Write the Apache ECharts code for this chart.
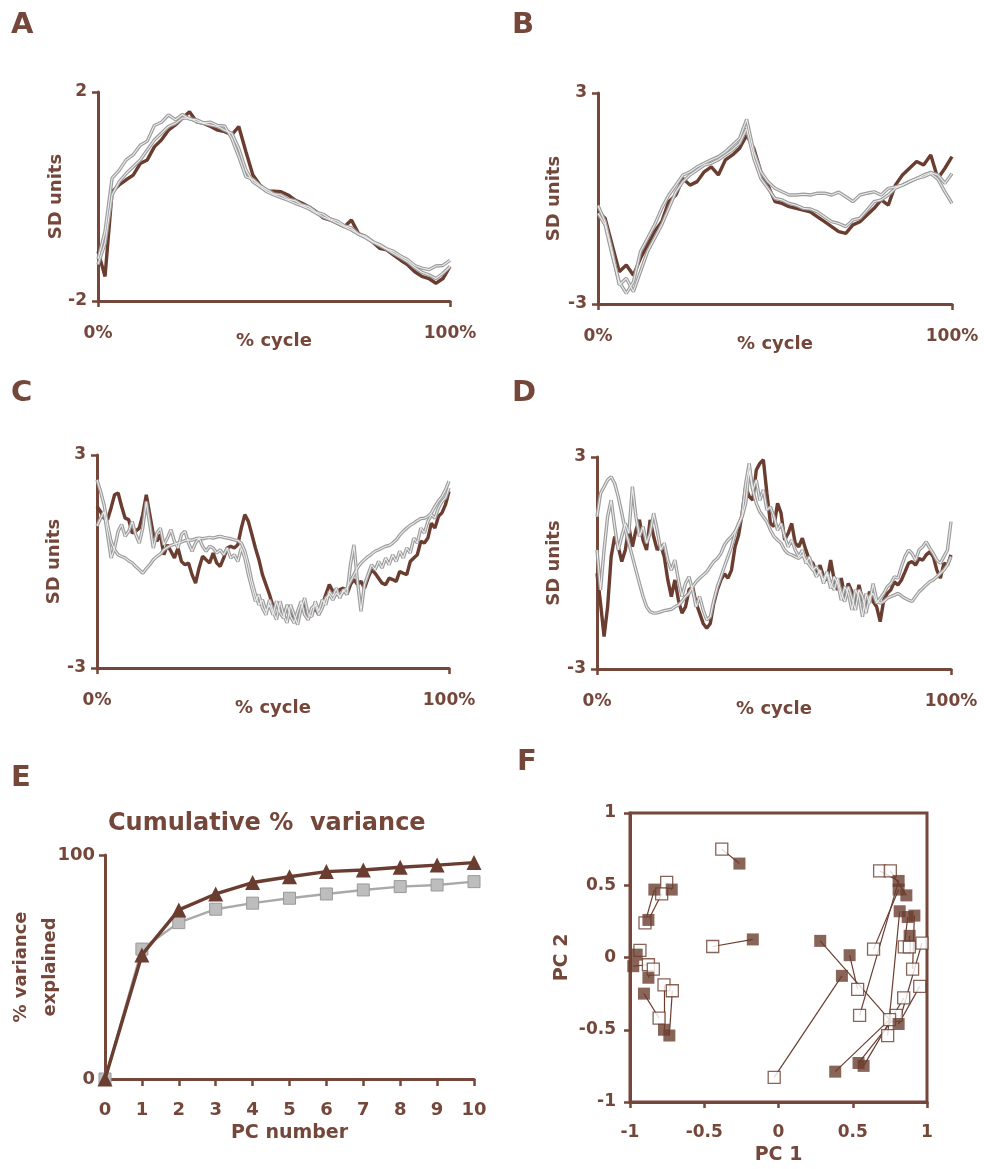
<!DOCTYPE html>
<html><head><meta charset="utf-8">
<script src="https://cdn.jsdelivr.net/npm/echarts@6/dist/echarts.min.js"></script>
<style>html,body{margin:0;padding:0;background:#fff}#c{width:984px;height:1169px}</style>
</head><body><div id="c"></div>
<script>
// ---------- Panel A (2% steps, 0..100% cycle) ----------
const aDark = [-1.05,-1.53,0.09,0.22,0.32,0.41,0.63,0.70,0.95,1.08,1.27,1.37,1.50,1.62,1.43,1.40,1.34,1.27,1.24,1.18,1.34,0.86,0.41,0.22,0.10,0.10,0.09,0.03,-0.07,-0.13,-0.20,-0.29,-0.41,-0.45,-0.51,-0.58,-0.45,-0.71,-0.77,-0.87,-0.99,-1.02,-1.12,-1.22,-1.31,-1.44,-1.53,-1.57,-1.66,-1.57,-1.34];
const aGray1 = [-1.20,-0.67,0.35,0.50,0.70,0.80,0.98,1.06,1.36,1.42,1.56,1.47,1.57,1.48,1.47,1.41,1.42,1.36,1.35,1.11,0.76,0.38,0.33,0.21,0.13,0.05,0.03,-0.05,-0.08,-0.16,-0.20,-0.30,-0.34,-0.43,-0.47,-0.56,-0.60,-0.72,-0.76,-0.86,-0.92,-1.00,-1.05,-1.14,-1.21,-1.32,-1.37,-1.40,-1.33,-1.32,-1.22];
const aGray2 = [-1.30,-0.90,0.03,0.28,0.44,0.57,0.70,0.89,1.08,1.21,1.34,1.40,1.50,1.50,1.43,1.40,1.37,1.34,1.27,1.21,0.92,0.51,0.28,0.19,0.09,0.03,-0.02,-0.07,-0.13,-0.18,-0.24,-0.32,-0.39,-0.45,-0.51,-0.58,-0.64,-0.72,-0.79,-0.87,-0.94,-1.01,-1.09,-1.17,-1.25,-1.36,-1.45,-1.50,-1.57,-1.47,-1.34];
// ---------- Panel B (2% steps) ----------
const bDark = [-0.38,-0.56,-1.32,-2.08,-1.89,-2.18,-1.70,-1.32,-0.94,-0.66,-0.09,0.10,0.57,0.38,0.48,0.76,0.90,0.67,1.10,1.24,1.43,1.80,1.43,0.76,0.38,-0.09,-0.14,-0.23,-0.28,-0.33,-0.38,-0.52,-0.66,-0.80,-0.94,-0.99,-0.75,-0.66,-0.47,-0.28,-0.04,-0.19,0.38,0.67,0.86,1.05,0.95,1.24,0.57,0.86,1.19];
const bGray1 = [-0.42,-0.75,-1.61,-2.37,-2.70,-2.37,-1.51,-1.13,-0.75,-0.28,0.10,0.38,0.67,0.76,0.90,1.00,1.10,1.19,1.33,1.52,1.71,2.25,1.33,0.76,0.48,0.29,0.19,0.10,0.10,0.12,0.10,0.15,0.15,0.10,0.18,0.05,-0.09,0.10,0.15,0.19,0.10,0.29,0.33,0.38,0.48,0.57,0.62,0.71,0.55,0.19,-0.14];
const bGray2 = [-0.20,-0.66,-1.51,-2.46,-2.27,-2.65,-2.08,-1.51,-1.13,-0.75,-0.28,0.19,0.48,0.67,0.81,0.95,1.00,1.10,1.24,1.38,1.57,1.99,1.14,0.57,0.29,0.00,-0.04,-0.14,-0.19,-0.28,-0.30,-0.38,-0.52,-0.66,-0.71,-0.80,-0.61,-0.56,-0.33,-0.09,-0.04,0.10,0.29,0.38,0.48,0.57,0.67,0.74,0.67,0.43,0.71];
// ---------- Panel C (1% steps) ----------
const cDark = [1.55,1.41,1.22,1.18,1.51,1.88,1.93,1.55,1.22,1.18,
 0.80,0.85,0.94,1.32,1.88,1.32,0.76,0.57,0.76,0.19,
 0.47,0.29,0.10,0.38,0.00,-0.09,-0.04,-0.37,-0.61,-0.18,
 0.15,0.05,-0.04,0.24,-0.04,-0.14,0.10,0.38,0.43,0.38,
 0.47,0.94,1.32,1.13,0.76,0.38,0.05,-0.37,-0.65,-0.93,
 -1.26,-1.22,-1.40,-1.50,-1.31,-1.50,-1.69,-1.55,-1.26,-1.17,
 -1.59,-1.45,-1.31,-1.50,-1.22,-0.93,-0.65,-0.84,-0.93,-0.79,
 -0.75,-0.93,-0.65,-0.51,-0.65,-0.56,-0.75,-0.47,-0.23,-0.33,
 -0.47,-0.61,-0.65,-0.47,-0.51,-0.56,-0.28,-0.33,-0.37,0.00,
 0.10,0.19,0.57,0.52,0.66,1.08,0.94,1.27,1.37,1.60,1.98];
const cGray1 = [2.30,1.98,1.60,1.04,0.57,0.33,0.19,0.14,0.10,0.02,
 -0.04,-0.14,-0.23,-0.33,-0.20,-0.09,0.05,0.14,0.21,0.33,
 0.40,0.45,0.49,0.52,0.55,0.59,0.61,0.60,0.64,0.66,
 0.64,0.66,0.68,0.66,0.69,0.71,0.68,0.66,0.64,0.61,
 0.59,0.52,0.29,-0.09,-0.56,-0.93,-1.22,-1.08,-1.40,-1.22,
 -1.50,-1.12,-1.45,-1.59,-1.22,-1.55,-1.73,-1.40,-1.12,-1.50,
 -1.64,-1.31,-1.22,-1.50,-1.31,-1.03,-0.93,-1.08,-0.89,-0.98,
 -0.84,-0.75,-0.56,-0.37,-0.18,-0.04,0.05,0.14,0.21,0.29,
 0.33,0.38,0.43,0.45,0.52,0.61,0.74,0.85,0.94,1.02,
 1.08,1.15,1.21,1.22,1.27,1.37,1.55,1.71,1.83,2.02,2.26];
const cGray2 = [1.00,1.22,1.41,0.76,0.10,0.38,0.85,1.04,0.71,0.85,
 1.13,0.76,0.52,0.94,1.69,1.04,0.38,0.80,0.94,0.47,
 0.66,0.90,0.57,0.38,0.76,0.85,0.52,0.29,0.52,0.66,
 0.43,0.29,0.43,0.38,0.24,0.33,0.19,0.38,0.10,0.19,
 0.00,0.38,0.10,-0.37,-0.75,-1.12,-0.93,-1.31,-1.50,-1.08,
 -1.40,-1.64,-1.12,-1.50,-1.73,-1.22,-1.50,-1.78,-1.31,-1.03,
 -1.50,-1.55,-1.12,-1.40,-1.08,-1.22,-0.84,-0.98,-0.75,-1.03,
 -0.79,-0.93,-0.09,0.47,-0.56,-1.40,-0.65,-0.37,-0.09,-0.23,
 0.00,-0.18,0.10,-0.09,0.19,0.00,0.29,0.10,0.38,0.24,
 0.66,0.52,0.94,0.80,1.13,1.32,1.22,1.51,1.69,1.79,2.07];
// ---------- Panel D (1% steps) ----------
const dDark = [-0.29,-1.14,-2.08,-1.24,0.18,0.75,0.46,0.04,0.37,1.03,
 0.46,0.93,1.22,0.65,0.37,1.22,0.75,0.37,0.51,0.18,
 -0.48,-0.95,-0.48,-1.05,-1.42,-1.24,-0.76,-0.67,-1.14,-1.42,
 -1.71,-1.85,-1.71,-1.14,-0.76,-0.48,-0.31,-0.43,-0.20,0.46,
 0.79,1.41,2.16,1.88,1.78,2.63,2.82,2.92,1.97,1.12,
 1.03,1.69,1.41,0.65,0.84,1.12,0.56,0.46,0.70,0.37,
 0.08,-0.01,-0.29,-0.06,-0.39,-0.48,0.08,-0.48,-0.76,-0.43,
 -0.95,-0.58,-0.81,-1.14,-0.62,-1.05,-1.24,-0.81,-1.09,-1.24,
 -1.66,-1.05,-0.86,-0.76,-0.53,-0.62,-0.48,-0.25,-0.01,0.04,
 -0.06,0.13,0.08,0.23,0.32,0.18,-0.20,-0.43,-0.01,-0.06,0.23];
const dGray1 = [1.31,1.97,2.16,2.35,2.44,2.25,1.88,1.41,0.93,0.56,
 0.18,-0.20,-0.58,-0.95,-1.24,-1.38,-1.42,-1.41,-1.38,-1.35,
 -1.33,-1.31,-1.24,-1.19,-1.09,-0.95,-0.86,-0.67,-0.53,-0.43,
 -0.34,-0.25,-0.10,0.04,0.13,0.27,0.51,0.65,0.75,0.89,
 1.08,1.36,2.25,2.82,2.07,1.69,1.45,1.31,1.17,0.93,
 0.75,0.65,0.56,0.37,0.27,0.23,0.18,0.13,0.23,0.08,
 -0.06,-0.20,-0.10,-0.29,-0.48,-0.25,-0.58,-0.76,-0.43,-0.86,
 -1.09,-0.67,-1.00,-1.33,-0.76,-0.95,-1.42,-0.95,-0.86,-1.14,
 -1.00,-0.86,-0.67,-0.58,-0.39,-0.43,-0.10,0.18,0.37,0.27,
 0.08,0.37,0.46,0.60,0.42,0.27,0.08,-0.01,0.18,0.37,1.17];
const dGray2 = [0.37,-0.76,0.37,1.31,1.78,1.03,0.37,0.75,1.12,0.84,
 2.16,1.31,0.75,1.03,0.56,0.84,1.41,0.93,0.37,0.56,
 0.08,-0.20,0.08,-0.48,-0.95,-0.58,-0.39,-0.76,-1.24,-0.95,
 -1.33,-1.61,-1.52,-1.05,-0.67,-0.39,-0.10,0.18,0.46,0.84,
 1.12,1.31,1.69,2.63,2.07,2.35,1.78,2.07,1.50,1.59,
 1.31,0.93,1.12,0.75,0.46,0.65,0.37,0.18,0.37,-0.01,
 0.18,-0.15,-0.39,-0.20,-0.58,-0.29,-0.72,-0.39,-0.58,-1.05,
 -0.67,-0.86,-1.33,-0.76,-0.95,-1.52,-0.86,-1.14,-0.58,-1.05,
 -1.14,-1.09,-1.00,-0.95,-0.91,-0.86,-0.93,-1.00,-1.05,-1.09,
 -0.95,-0.81,-0.72,-0.62,-0.53,-0.48,-0.39,-0.29,-0.20,-0.06,0.18];
// ---------- Panel E ----------
const pcNumbers = [0,1,2,3,4,5,6,7,8,9,10];
const cumVarTriangle = [0,55.4,75.5,82.6,87.7,90.3,92.6,93.3,94.5,95.5,96.6];
const cumVarSquare = [0,58.0,69.8,75.8,78.5,80.7,82.6,84.4,85.9,86.6,88.1];
// ---------- Panel F (PC1, PC2) ----------
const fOpen = [
 [-0.753,0.52],[-0.787,0.44],[-0.899,0.24],[-0.933,0.05],[-0.876,-0.05],[-0.843,-0.08],[-0.804,-0.42],[-0.771,-0.19],[-0.715,-0.23],
 [-0.382,0.75],[-0.443,0.076],
 [-0.029,-0.83],[0.533,-0.22],[0.546,-0.40],[0.64,0.058],[0.681,0.60],[0.753,0.60],[0.847,0.074],[0.881,0.074],[0.966,0.10],[0.903,-0.08],[0.951,-0.20],[0.843,-0.28],[0.793,-0.40],[0.748,-0.43],[0.735,-0.54]
];
const fFilled = [
 [-0.719,0.47],[-0.876,0.26],[-0.836,0.47],[-0.955,0.02],[-0.978,-0.06],[-0.876,-0.14],[-0.906,-0.25],[-0.771,-0.50],[-0.735,-0.54],
 [-0.263,0.65],[-0.173,0.125],
 [0.427,-0.127],[0.281,0.115],[0.479,0.016],[0.809,0.53],[0.809,0.47],[0.861,0.43],[0.816,0.32],[0.87,0.28],[0.883,0.15],[0.915,0.29],[0.539,-0.73],[0.573,-0.75],[0.382,-0.79],[0.809,-0.46]
];
const fLinks = [[0,0],[1,1],[2,2],[3,3],[4,4],[5,5],[6,6],[7,7],[8,8],[9,9],[10,10],
 [11,11],[24,12],[12,13],[13,14],[14,15],[15,14],[16,16],[25,17],[17,18],[18,19],[20,20],[23,21],[22,22],[24,23],[19,24],[21,24]];

// ---------- styling ----------
const BROWN = '#74473a';
const DARK = '#6a3d30';
const FONT = 'DejaVu Sans';
const lbl = {color: BROWN, fontFamily: FONT, fontWeight: 'bold', fontSize: 17};

const grids = [
 {left: 98, top: 92, width: 352, height: 209},
 {left: 598, top: 93, width: 354, height: 211},
 {left: 97, top: 455, width: 352, height: 213},
 {left: 597, top: 457, width: 354, height: 212},
 {left: 105, top: 855, width: 369, height: 224},
 {left: 630, top: 813, width: 297, height: 289, show: true, borderColor: BROWN, borderWidth: 3, backgroundColor: 'transparent'}
].map(g => Object.assign({outerBoundsMode: 'none', containLabel: false}, g));

const axisLine = {show: true, onZero: false, lineStyle: {color: BROWN, width: 3}};
const tick = (vals) => ({show: true, inside: false, length: 6, customValues: vals, lineStyle: {color: BROWN, width: 2.5}});

function cycleX(gi) {
  return {type: 'value', gridIndex: gi, min: 0, max: 100, name: '% cycle', nameLocation: 'middle', nameGap: 31,
    nameMoveOverlap: false,
    nameTextStyle: Object.assign({}, lbl, {fontSize: 18}),
    axisLine, axisTick: tick([0, 100]), splitLine: {show: false},
    axisLabel: Object.assign({}, lbl, {margin: 24, customValues: [0, 100], formatter: '{value}%'})};
}
function sdY(gi, lim, gap) {
  return {type: 'value', gridIndex: gi, min: -lim, max: lim, name: 'SD units', nameLocation: 'middle', nameGap: gap,
    nameMoveOverlap: false,
    nameTextStyle: Object.assign({}, lbl, {fontSize: 18}),
    axisLine, axisTick: tick([-lim, lim]), splitLine: {show: false},
    axisLabel: Object.assign({}, lbl, {margin: 11, customValues: [-lim, lim]})};
}
const toXY = arr => arr.map((v, i) => [i * 100 / (arr.length - 1), v]);
function darkLine(gi, arr) {
  return {type: 'line', xAxisIndex: gi, yAxisIndex: gi, data: toXY(arr), symbol: 'none', silent: true,
    lineStyle: {color: DARK, width: 3.4}, z: 2};
}
function grayLine(gi, arr) {
  return [
    {type: 'line', xAxisIndex: gi, yAxisIndex: gi, data: toXY(arr), symbol: 'none', silent: true,
      lineStyle: {color: '#9c9c9c', width: 3.4}, z: 3},
    {type: 'line', xAxisIndex: gi, yAxisIndex: gi, data: toXY(arr), symbol: 'none', silent: true,
      lineStyle: {color: '#ececec', width: 1.1}, z: 4}
  ];
}

const xAxes = [cycleX(0), cycleX(1), cycleX(2), cycleX(3),
 {type: 'value', gridIndex: 4, min: 0, max: 10, interval: 1, name: 'PC number', nameLocation: 'middle', nameGap: 45,
  nameMoveOverlap: false,
  nameTextStyle: Object.assign({}, lbl, {fontSize: 19}), axisLine,
  axisTick: {show: true, length: 7, lineStyle: {color: BROWN, width: 2.5}}, splitLine: {show: false},
  axisLabel: Object.assign({}, lbl, {fontSize: 18, margin: 22})},
 {type: 'value', gridIndex: 5, min: -1, max: 1, interval: 0.5, name: 'PC 1', nameLocation: 'middle', nameGap: 44,
  nameMoveOverlap: false,
  nameTextStyle: Object.assign({}, lbl, {fontSize: 19}), axisLine,
  axisTick: {show: true, length: 6, lineStyle: {color: BROWN, width: 2.5}}, splitLine: {show: false},
  axisLabel: Object.assign({}, lbl, {margin: 22})}
];
const yAxes = [sdY(0, 2, 33), sdY(1, 3, 35), sdY(2, 3, 34), sdY(3, 3, 34),
 {type: 'value', gridIndex: 4, min: 0, max: 100, name: '% variance\nexplained', nameLocation: 'middle', nameGap: 40,
  nameMoveOverlap: false,
  nameTextStyle: Object.assign({}, lbl, {fontSize: 18, lineHeight: 29}), axisLine,
  axisTick: tick([0, 100]), splitLine: {show: false},
  axisLabel: Object.assign({}, lbl, {fontSize: 18, margin: 10, customValues: [0, 100]})},
 {type: 'value', gridIndex: 5, min: -1, max: 1, interval: 0.5, name: 'PC 2', nameLocation: 'middle', nameGap: 58,
  nameMoveOverlap: false,
  nameTextStyle: Object.assign({}, lbl, {fontSize: 19}), axisLine,
  axisTick: {show: true, length: 6, lineStyle: {color: BROWN, width: 2.5}}, splitLine: {show: false},
  axisLabel: Object.assign({}, lbl, {margin: 14})}
];

const series = [];
[[aDark, aGray1, aGray2], [bDark, bGray1, bGray2], [cDark, cGray1, cGray2], [dDark, dGray1, dGray2]].forEach((set, gi) => {
  series.push(darkLine(gi, set[0]));
  series.push(...grayLine(gi, set[1]));
  series.push(...grayLine(gi, set[2]));
});
series.push({type: 'line', xAxisIndex: 4, yAxisIndex: 4, silent: true, z: 3,
  data: pcNumbers.map((p, i) => [p, cumVarSquare[i]]), symbol: 'rect', symbolSize: 12,
  lineStyle: {color: '#a9a9a9', width: 2.4}, itemStyle: {color: '#bdbdbd', borderColor: '#999', borderWidth: 1}});
series.push({type: 'line', xAxisIndex: 4, yAxisIndex: 4, silent: true, z: 4,
  data: pcNumbers.map((p, i) => [p, cumVarTriangle[i]]), symbol: 'triangle', symbolSize: 15,
  lineStyle: {color: DARK, width: 3.4}, itemStyle: {color: DARK}});
series.push({type: 'lines', coordinateSystem: 'cartesian2d', xAxisIndex: 5, yAxisIndex: 5, silent: true, z: 2,
  lineStyle: {color: DARK, width: 1.2, opacity: 1},
  data: fLinks.map(([o, f]) => ({coords: [fOpen[o], fFilled[f]]}))});
series.push({type: 'scatter', xAxisIndex: 5, yAxisIndex: 5, silent: true, z: 4, data: fOpen, symbol: 'rect', symbolSize: 12,
  itemStyle: {color: '#ffffff', borderColor: DARK, borderWidth: 1.3}});
series.push({type: 'scatter', xAxisIndex: 5, yAxisIndex: 5, silent: true, z: 5, data: fFilled, symbol: 'rect', symbolSize: 12,
  itemStyle: {color: DARK}});

const letter = (t, x, y) => ({type: 'text', left: x, top: y, silent: true,
  style: {text: t, fill: BROWN, font: 'bold 29px "DejaVu Sans"'}});

const option = {
  backgroundColor: '#ffffff',
  animation: false,
  grid: grids, xAxis: xAxes, yAxis: yAxes, series,
  graphic: [
    letter('A', 11, 11), letter('B', 512, 11), letter('C', 11, 379), letter('D', 512, 379),
    letter('E', 11, 764), letter('F', 517, 748),
    {type: 'text', left: 108, top: 812, silent: true,
     style: {text: 'Cumulative %  variance', fill: BROWN, font: 'bold 24px "DejaVu Sans"'}}
  ]
};
const chart = echarts.init(document.getElementById('c'), null, {renderer: 'canvas'});
chart.setOption(option);
</script></body></html>
